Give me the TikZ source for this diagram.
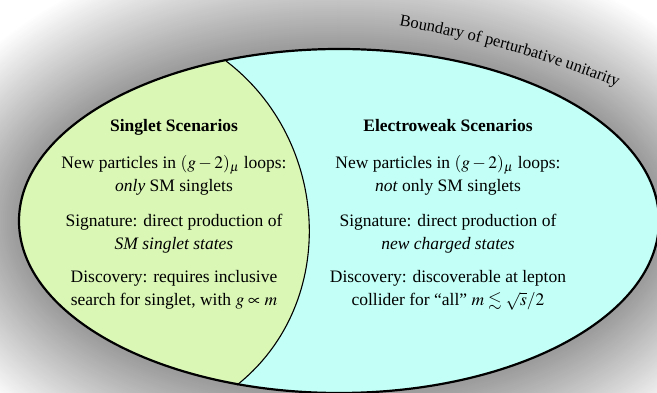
\documentclass[tikz,border=0pt]{standalone}
\usepackage{mathptmx}
\usepackage{amssymb}
\usepackage[no-math]{fontspec}
\setmainfont{Liberation Serif}
\usetikzlibrary{decorations.text}

\definecolor{singletgreen}{RGB}{218,247,182}
\definecolor{ewcyan}{RGB}{195,255,247}

\tikzset{
  scenario/.style={align=center, anchor=base, font=\fontsize{17.5}{23.5}\selectfont},
  heading/.style={anchor=base, font=\fontsize{17.5}{23.5}\selectfont\bfseries}
}

\begin{document}
\begin{tikzpicture}[x=1pt,y=1pt]
  \useasboundingbox (0,0) rectangle (657,393);
  \clip (0,0) rectangle (657,393);
  \fill[white] (0,0) rectangle (657,393);

  % soft grey glow round the boundary
  \foreach \d in {120,118,...,0} {
    \pgfmathsetmacro\glow{max(0,40-40*\d/116)}
    \pgfmathsetmacro\rx{320+\d}
    \pgfmathsetmacro\ry{172+\d}
    \fill[black!\glow] (339,172) ellipse [x radius=\rx, y radius=\ry];
  }

  \fill[ewcyan] (339,172) ellipse [x radius=320, y radius=172];
  \begin{scope}
    \clip (339,172) ellipse [x radius=320, y radius=172];
    \fill[singletgreen] (226,332) .. controls (330,253) and (340,90) .. (237,8)
      -- (237,-10) -- (-10,-10) -- (-10,350) -- (226,350) -- cycle;
  \end{scope}

  \coordinate (divtop) at (226,332);
  \coordinate (divbot) at (237,8);
  \draw[line width=1.1pt] (divtop) .. controls (330,253) and (340,90) .. (divbot);
  \draw[line width=2.2pt] (339,172) ellipse [x radius=320, y radius=172];

  \path[decorate, decoration={text along path, text align=center,
      text={|\fontsize{16.5}{19}\selectfont|Boundary of perturbative unitarity}}]
    (396,368) .. controls (470,355) and (545,335) .. (620,305);

  % left: singlets
  \node[heading] (singlethead) at (174,261) {Singlet Scenarios};
  \node[scenario] (singletloops) at (174,201) {New particles in $(g-2)_\mu$ loops:\\ \textit{only} SM singlets};
  \node[scenario] (singletsig) at (174,143) {Signature: direct production of\\ \textit{SM singlet states}};
  \node[scenario] (singletdisc) at (174,87) {Discovery: requires inclusive\\ search for singlet, with $g\propto m$};

  % right: electroweak
  \node[heading] (ewhead) at (448,261) {Electroweak Scenarios};
  \node[scenario] (ewloops) at (448,201) {New particles in $(g-2)_\mu$ loops:\\ \textit{not} only SM singlets};
  \node[scenario] (ewsig) at (448,143) {Signature: direct production of\\ \textit{new charged states}};
  \node[scenario] (ewdisc) at (448,87) {Discovery: discoverable at lepton\\ collider for ``all'' $m\lesssim\sqrt{s}/2$};

\end{tikzpicture}
\end{document}
